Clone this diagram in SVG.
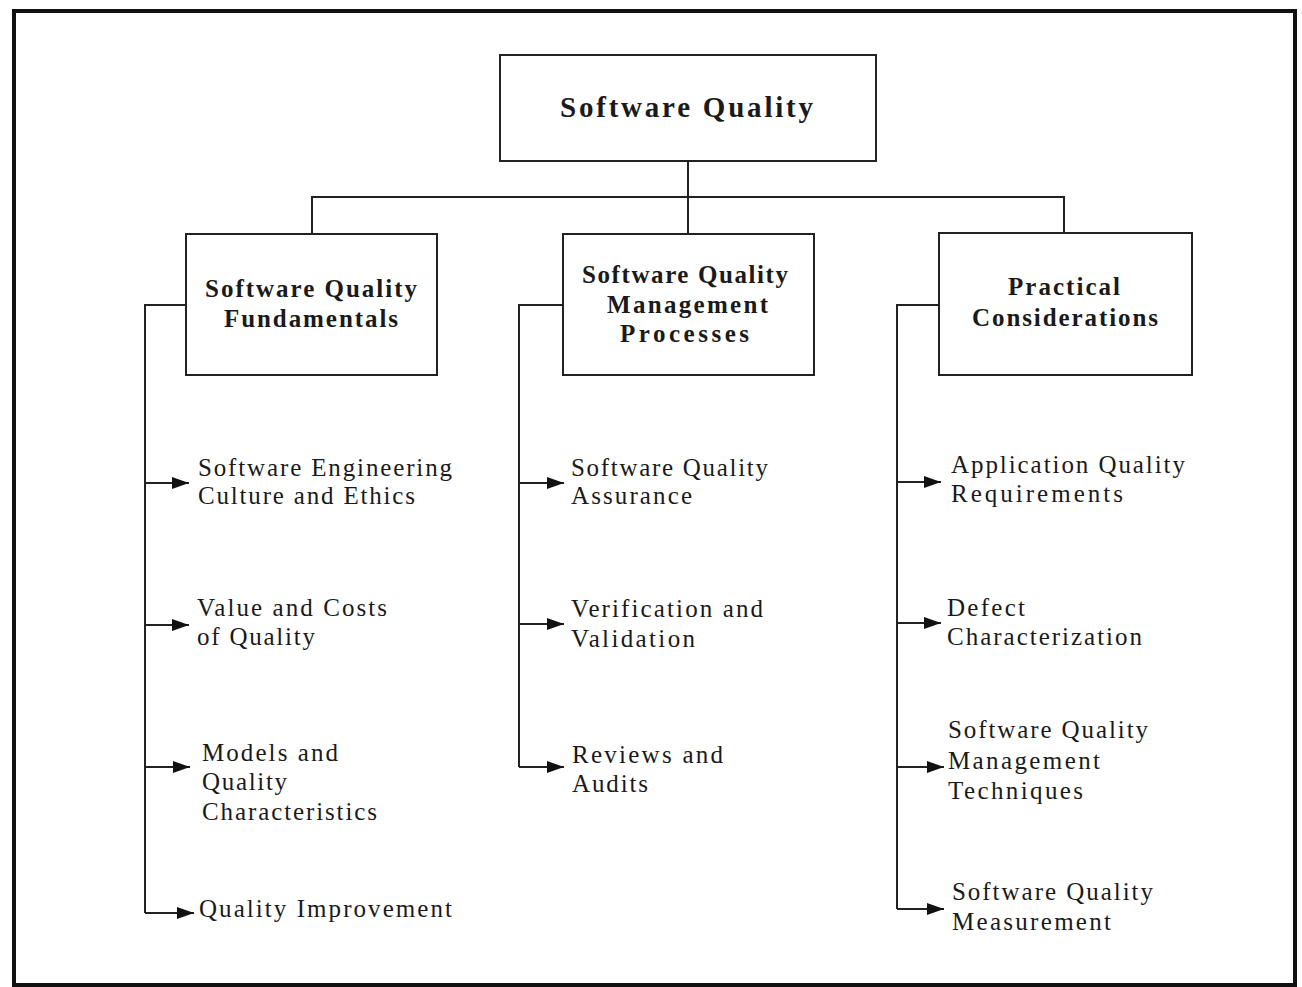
<svg xmlns="http://www.w3.org/2000/svg" width="1302" height="987" viewBox="0 0 1302 987">
<style>
.frame{fill:none;stroke:#111;stroke-width:4}
.box{fill:#fff;stroke:#222;stroke-width:2}
.ln{fill:none;stroke:#222;stroke-width:2}
.arr{fill:none;stroke:#222;stroke-width:2;marker-end:url(#ah)}
.bt{font-family:"Liberation Serif","Times New Roman",serif;font-weight:bold;font-size:25px;fill:#1a1a1a}
.tt{font-family:"Liberation Serif","Times New Roman",serif;font-weight:bold;font-size:29px;fill:#1a1a1a}
.lt{font-family:"Liberation Serif","Times New Roman",serif;font-size:25px;fill:#1a1a1a}
</style>
<defs>
<marker id="ah" markerUnits="userSpaceOnUse" markerWidth="18" markerHeight="14" refX="17" refY="7" orient="auto">
<path d="M0,1 L17,7 L0,13 z" fill="#111"/>
</marker>
</defs>
<rect width="1302" height="987" fill="#fff"/>
<rect class="frame" x="14" y="11" width="1281" height="974"/>

<g id="connectors">
<path class="ln" d="M688,161 V234"/>
<path class="ln" d="M312,234 V197 H1064 V233"/>
<path class="ln" d="M186,305 H145 V913"/>
<path class="arr" d="M145,483 H189"/>
<path class="arr" d="M145,625 H189"/>
<path class="arr" d="M145,767 H190"/>
<path class="arr" d="M145,913 H194"/>
<path class="ln" d="M563,305 H519 V767"/>
<path class="arr" d="M519,483 H564"/>
<path class="arr" d="M519,624 H564"/>
<path class="arr" d="M519,767 H564"/>
<path class="ln" d="M939,305 H897 V909"/>
<path class="arr" d="M897,482 H941"/>
<path class="arr" d="M897,623 H941"/>
<path class="arr" d="M897,767 H944"/>
<path class="arr" d="M897,909 H944"/>
</g>

<g id="n-root">
<rect class="box" x="500" y="55" width="376" height="106"/>
<text class="tt" x="560" y="117" textLength="253" lengthAdjust="spacing">Software Quality</text>
</g>

<g id="n-fund">
<rect class="box" x="186" y="234" width="251" height="141"/>
<text class="bt" x="205" y="297" textLength="212" lengthAdjust="spacing">Software Quality</text>
<text class="bt" x="224" y="327" textLength="174" lengthAdjust="spacing">Fundamentals</text>
</g>

<g id="n-mgmt">
<rect class="box" x="563" y="234" width="251" height="141"/>
<text class="bt" x="582" y="283" textLength="206" lengthAdjust="spacing">Software Quality</text>
<text class="bt" x="607" y="313" textLength="161" lengthAdjust="spacing">Management</text>
<text class="bt" x="620" y="342" textLength="129" lengthAdjust="spacing">Processes</text>
</g>

<g id="n-prac">
<rect class="box" x="939" y="233" width="253" height="142"/>
<text class="bt" x="1008" y="295" textLength="112" lengthAdjust="spacing">Practical</text>
<text class="bt" x="972" y="326" textLength="186" lengthAdjust="spacing">Considerations</text>
</g>

<g id="l-culture">
<text class="lt" x="198" y="476" textLength="254" lengthAdjust="spacing">Software Engineering</text>
<text class="lt" x="198" y="504" textLength="217" lengthAdjust="spacing">Culture and Ethics</text>
</g>
<g id="l-value">
<text class="lt" x="197" y="616" textLength="190" lengthAdjust="spacing">Value and Costs</text>
<text class="lt" x="197" y="645" textLength="118" lengthAdjust="spacing">of Quality</text>
</g>
<g id="l-models">
<text class="lt" x="202" y="761" textLength="136" lengthAdjust="spacing">Models and</text>
<text class="lt" x="202" y="790" textLength="85" lengthAdjust="spacing">Quality</text>
<text class="lt" x="202" y="820" textLength="175" lengthAdjust="spacing">Characteristics</text>
</g>
<g id="l-improve">
<text class="lt" x="199" y="917" textLength="253" lengthAdjust="spacing">Quality Improvement</text>
</g>

<g id="l-sqa">
<text class="lt" x="571" y="476" textLength="197" lengthAdjust="spacing">Software Quality</text>
<text class="lt" x="571" y="504" textLength="121" lengthAdjust="spacing">Assurance</text>
</g>
<g id="l-vv">
<text class="lt" x="571" y="617" textLength="192" lengthAdjust="spacing">Verification and</text>
<text class="lt" x="571" y="647" textLength="124" lengthAdjust="spacing">Validation</text>
</g>
<g id="l-reviews">
<text class="lt" x="572" y="763" textLength="151" lengthAdjust="spacing">Reviews and</text>
<text class="lt" x="572" y="792" textLength="76" lengthAdjust="spacing">Audits</text>
</g>

<g id="l-appreq">
<text class="lt" x="951" y="473" textLength="234" lengthAdjust="spacing">Application Quality</text>
<text class="lt" x="951" y="502" textLength="172" lengthAdjust="spacing">Requirements</text>
</g>
<g id="l-defect">
<text class="lt" x="947" y="616" textLength="78" lengthAdjust="spacing">Defect</text>
<text class="lt" x="947" y="645" textLength="195" lengthAdjust="spacing">Characterization</text>
</g>
<g id="l-sqmt">
<text class="lt" x="948" y="738" textLength="200" lengthAdjust="spacing">Software Quality</text>
<text class="lt" x="948" y="769" textLength="152" lengthAdjust="spacing">Management</text>
<text class="lt" x="948" y="799" textLength="135" lengthAdjust="spacing">Techniques</text>
</g>
<g id="l-sqmeas">
<text class="lt" x="952" y="900" textLength="201" lengthAdjust="spacing">Software Quality</text>
<text class="lt" x="952" y="930" textLength="159" lengthAdjust="spacing">Measurement</text>
</g>
</svg>
